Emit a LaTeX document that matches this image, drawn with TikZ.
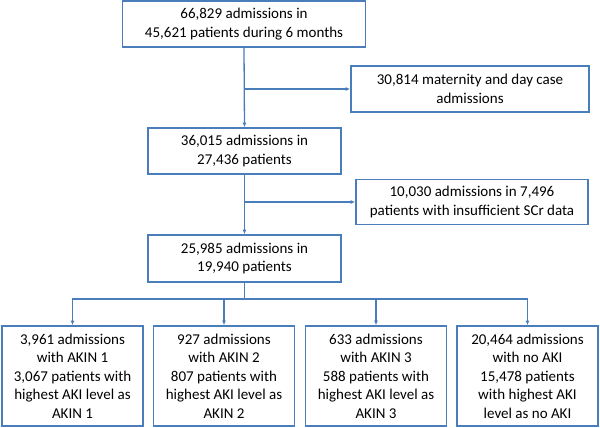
\documentclass[tikz,border=0pt]{standalone}
\usepackage{fontspec}
\setmainfont{Carlito}
\usepackage{tikz}
\usetikzlibrary{arrows.meta}
\usepackage{xcolor}
\definecolor{flowblue}{HTML}{4A7EBB}

\begin{document}
\begin{tikzpicture}[x=1pt,y=-1pt,>={Latex[length=4.5pt,width=4pt]},
  font=\fontsize{15}{18.5}\selectfont,line cap=butt,
  box/.style={draw=flowblue,line width=1.6pt,rectangle,align=center,inner sep=0pt},
  arr/.style={->,draw=flowblue,line width=1.3pt}]
\useasboundingbox (0,0) rectangle (600,428);
\node[box,minimum width=243pt,minimum height=46pt] (start) at (244,24) {66,829 admissions in\\45,621 patients during 6 months};
\node[box,minimum width=238pt,minimum height=46pt] (excla) at (470,89) {30,814 maternity and day case\\admissions};
\node[box,minimum width=193pt,minimum height=46pt] (mid) at (244.5,151) {36,015 admissions in\\27,436 patients};
\node[box,minimum width=232pt,minimum height=45pt] (exclb) at (472,202) {10,030 admissions in 7,496\\patients with insufficient SCr data};
\node[box,minimum width=193pt,minimum height=47pt] (final) at (244.5,258.5) {25,985 admissions in\\19,940 patients};
\node[box,minimum width=141pt,minimum height=100pt] (akin1) at (72.5,376) {3,961 admissions\\with AKIN 1\\3,067 patients with\\highest AKI level as\\AKIN 1};
\node[box,minimum width=141pt,minimum height=100pt] (akin2) at (224,376) {927 admissions\\with AKIN 2\\807 patients with\\highest AKI level as\\AKIN 2};
\node[box,minimum width=141pt,minimum height=100pt] (akin3) at (376,376) {633 admissions\\with AKIN 3\\588 patients with\\highest AKI level as\\AKIN 3};
\node[box,minimum width=141pt,minimum height=100pt] (noaki) at (527.5,376) {20,464 admissions\\with no AKI\\15,478 patients\\with highest AKI\\level as no AKI};
% exclusions branch off the trunk
\coordinate (forka) at (start.south |- excla.west);
\coordinate (forkb) at (mid.south |- exclb.west);
\coordinate (split) at (244.5,299);
\draw[arr] (start.south) -- (mid.north);
\draw[arr] (forka) -- (excla.west);
\draw[arr] (mid.south) -- (final.north);
\draw[arr] (forkb) -- (exclb.west);
% split into AKI stages
\draw[flowblue,line width=1.3pt] (final.south) -- (split);
\foreach \leaf in {akin1,akin2,akin3,noaki}
  \draw[arr] (split) -| (\leaf.north);
\end{tikzpicture}
\end{document}
